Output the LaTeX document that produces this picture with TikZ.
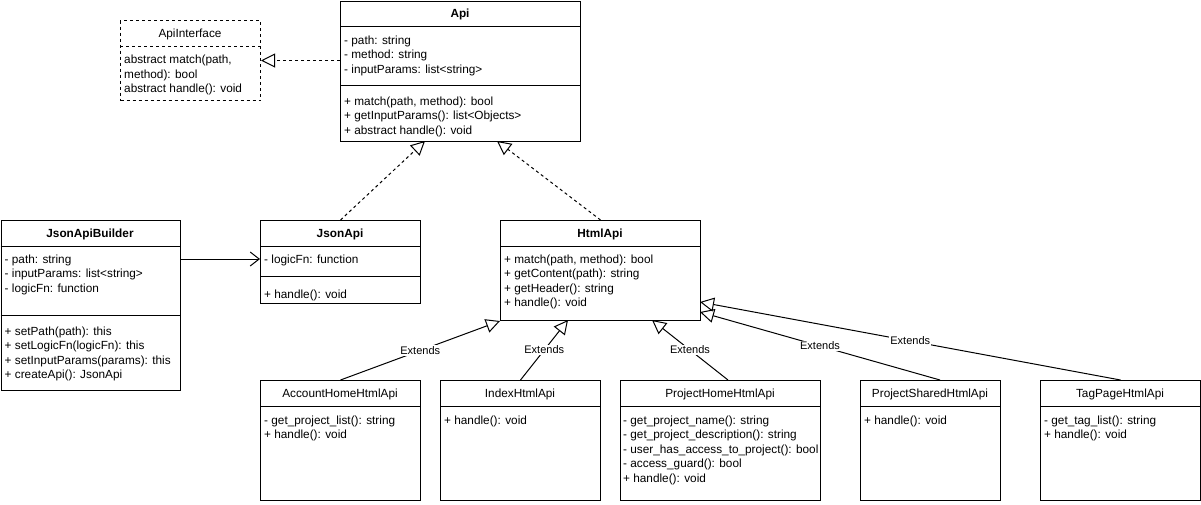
\documentclass[tikz,border=0pt]{standalone}
\usepackage{fontspec}
\setmainfont{Liberation Sans}
\usetikzlibrary{arrows.meta}
\tikzset{
  umlbox/.style={draw, line width=1pt, rectangle, inner sep=0pt, anchor=north west},
  ifbox/.style={umlbox, dash pattern=on 3pt off 3pt},
  mem/.style={anchor=base west, inner sep=0pt, font=\fontsize{11.8}{14}\selectfont},
  ttl/.style={anchor=base, inner sep=0pt, font=\fontsize{11.8}{14}\selectfont\bfseries},
  ttln/.style={anchor=base, inner sep=0pt, font=\fontsize{11.8}{14}\selectfont},
  sepline/.style={line width=1pt},
  realize/.style={line width=1pt, dash pattern=on 3pt off 3pt, -{Triangle[open, length=14pt, width=14pt]}},
  extends/.style={line width=1pt, -{Triangle[open, length=14pt, width=14pt]}},
  assoc/.style={line width=1pt, -{Straight Barb[length=9pt, width=14pt]}},
  lbl/.style={fill=white, inner sep=1pt, font=\fontsize{11}{13}\selectfont},
}
\newcommand{\members}[4]{%
  \foreach \t [count=\i] in {#4} {\node[mem] (#1-\i) at (#2, {#3+14.5*(\i-1)}) {\t};}}
\begin{document}
\begin{tikzpicture}[x=1pt, y=-1pt]
\useasboundingbox (0,0) rectangle (1201,504);

% ApiInterface
\node[ifbox, minimum width=140pt, minimum height=80pt] (apiif) at (120,20) {};
\draw[sepline, dash pattern=on 3pt off 3pt] (120,46) -- (260,46);
\node[ttln] (apiif-t) at (190,37) {ApiInterface};
\members{apiif}{124}{63.5}{{abstract match(path,}, {method): bool}, {abstract handle(): void}}

% Api
\node[umlbox, minimum width=240pt, minimum height=140.5pt] (api) at (340,0.5) {};
\draw[sepline] (340,26) -- (580,26);
\draw[sepline] (340,85) -- (580,85);
\node[ttl] (api-t) at (460,17) {Api};
\members{apia}{344}{44}{{- path: string}, {- method: string}, {- inputParams: list<string>}}
\members{apim}{344}{105}{{+ match(path, method): bool}, {+ getInputParams(): list<Objects>}, {+ abstract handle(): void}}

% JsonApiBuilder
\node[umlbox, minimum width=179.5pt, minimum height=170pt] (builder) at (0.5,220) {};
\draw[sepline] (0.5,246) -- (180,246);
\draw[sepline] (0.5,315) -- (180,315);
\node[ttl] (builder-t) at (90,237) {JsonApiBuilder};
\members{buildera}{4.5}{263}{{- path: string}, {- inputParams: list<string>}, {- logicFn: function}}
\members{builderm}{4.5}{335}{{+ setPath(path): this}, {+ setLogicFn(logicFn): this}, {+ setInputParams(params): this}, {+ createApi(): JsonApi}}

% JsonApi
\node[umlbox, minimum width=160pt, minimum height=83pt] (jsonapi) at (260,220) {};
\draw[sepline] (260,246) -- (420,246);
\draw[sepline] (260,276) -- (420,276);
\node[ttl] (jsonapi-t) at (340,237) {JsonApi};
\members{jsonapia}{264}{263}{{- logicFn: function}}
\members{jsonapim}{264}{298}{{+ handle(): void}}

% HtmlApi
\node[umlbox, minimum width=200pt, minimum height=100pt] (htmlapi) at (500,220) {};
\draw[sepline] (500,246) -- (700,246);
\node[ttl] (htmlapi-t) at (600,237) {HtmlApi};
\members{htmlapim}{504}{263}{{+ match(path, method): bool}, {+ getContent(path): string}, {+ getHeader(): string}, {+ handle(): void}}

% Children
\node[umlbox, minimum width=160pt, minimum height=120pt] (account) at (260,380) {};
\draw[sepline] (260,406) -- (420,406);
\node[ttln] (account-t) at (340,397) {AccountHomeHtmlApi};
\members{accountm}{264}{424}{{- get\_project\_list(): string}, {+ handle(): void}}

\node[umlbox, minimum width=160pt, minimum height=120pt] (index) at (440,380) {};
\draw[sepline] (440,406) -- (600,406);
\node[ttln] (index-t) at (520,397) {IndexHtmlApi};
\members{indexm}{444}{424}{{+ handle(): void}}

\node[umlbox, minimum width=200pt, minimum height=120pt] (projhome) at (620,380) {};
\draw[sepline] (620,406) -- (820,406);
\node[ttln] (projhome-t) at (720,397) {ProjectHomeHtmlApi};
\members{projhomem}{623}{424}{{- get\_project\_name(): string}, {- get\_project\_description(): string}, {- user\_has\_access\_to\_project(): bool}, {- access\_guard(): bool}, {+ handle(): void}}

\node[umlbox, minimum width=140pt, minimum height=120pt] (projshared) at (860,380) {};
\draw[sepline] (860,406) -- (1000,406);
\node[ttln] (projshared-t) at (930,397) {ProjectSharedHtmlApi};
\members{projsharedm}{864}{424}{{+ handle(): void}}

\node[umlbox, minimum width=160pt, minimum height=120pt] (tagpage) at (1040,380) {};
\draw[sepline] (1040,406) -- (1200,406);
\node[ttln] (tagpage-t) at (1120,397) {TagPageHtmlApi};
\members{tagpagem}{1044}{424}{{- get\_tag\_list(): string}, {+ handle(): void}}

% connector end points
\coordinate (api-b1) at (425,141);
\coordinate (api-b2) at (497,141);
\coordinate (builder-out) at (180,259);
\coordinate (jsonapi-in) at (260,259);
\coordinate (html-b2) at (568,320);
\coordinate (html-b3) at (652,320);
\coordinate (html-r1) at (700,302);
\coordinate (html-r2) at (700,312);
\coordinate (projhome-top) at (728,380);
\coordinate (projshared-top) at (940,380);

% connectors
\draw[realize] (api.west |- apiif.east) -- (apiif.east);
\draw[realize] (jsonapi.north) -- (api-b1);
\draw[realize] (htmlapi.north) -- (api-b2);
\draw[assoc] (builder-out) -- (jsonapi-in);

\draw[extends] (account.north) -- node[lbl] {Extends} (htmlapi.south west);
\draw[extends] (index.north) -- node[lbl] {Extends} (html-b2);
\draw[extends] (projhome-top) -- node[lbl] {Extends} (html-b3);
\draw[extends] (projshared-top) -- node[lbl] {Extends} (html-r2);
\draw[extends] (tagpage.north) -- node[lbl] {Extends} (html-r1);
\end{tikzpicture}
\end{document}
